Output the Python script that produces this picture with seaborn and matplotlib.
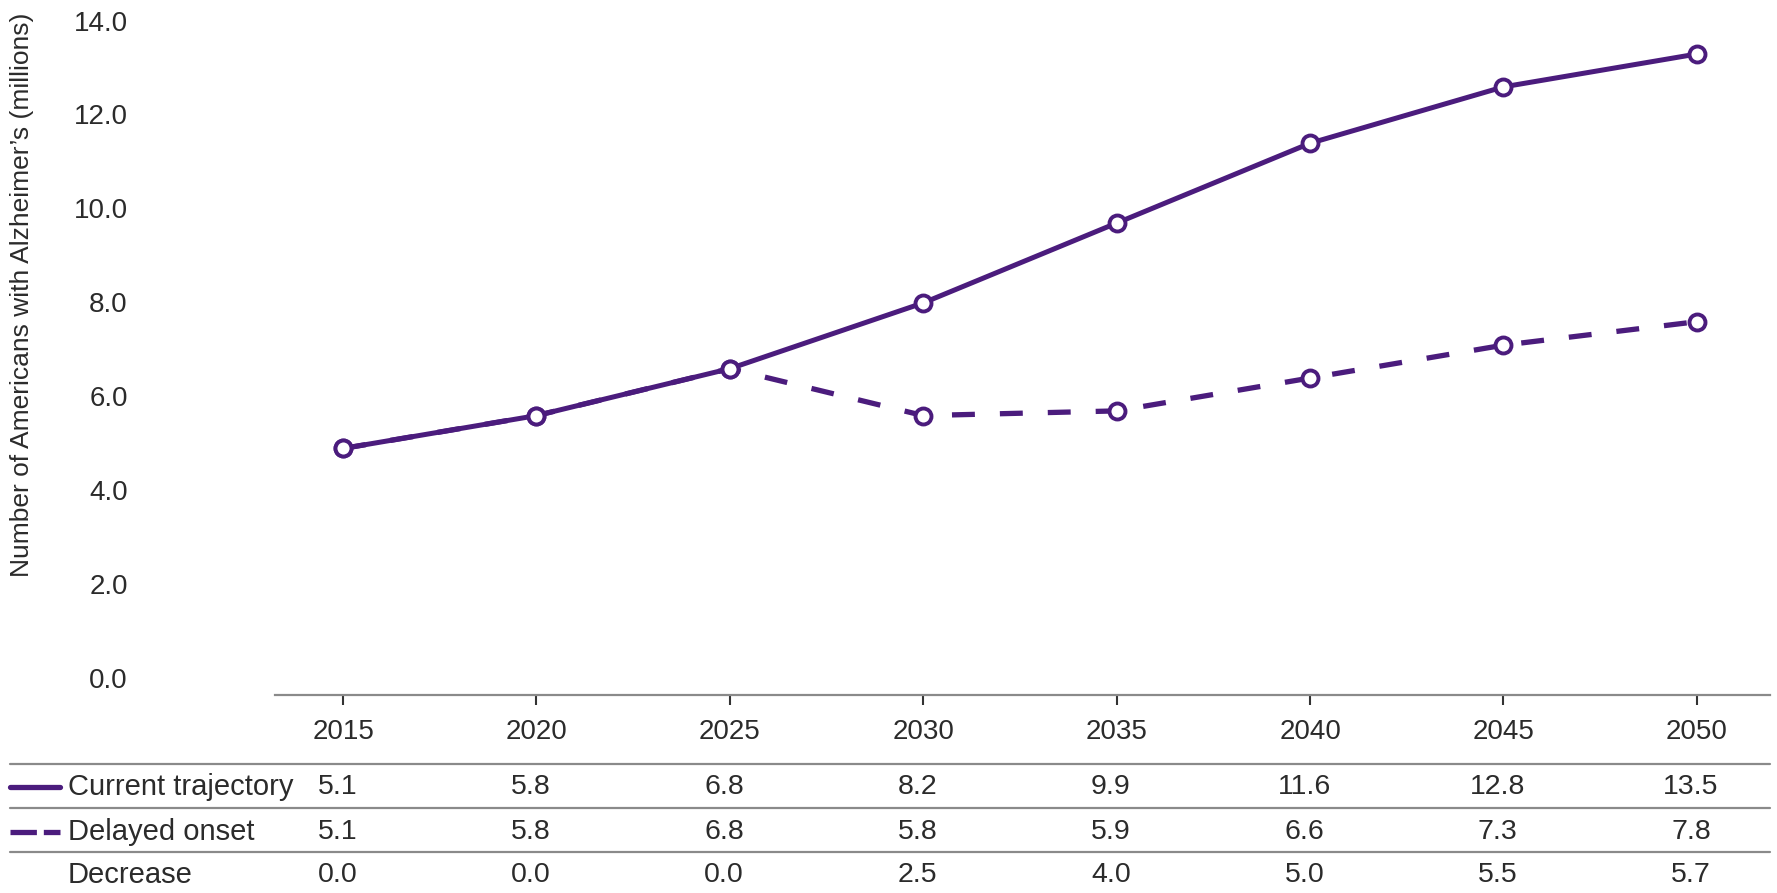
import pandas as pd
import matplotlib.pyplot as plt
import matplotlib.transforms as mtransforms
from matplotlib.lines import Line2D
import seaborn as sns

years = [2015, 2020, 2025, 2030, 2035, 2040, 2045, 2050]
current = [5.1, 5.8, 6.8, 8.2, 9.9, 11.6, 12.8, 13.5]
delayed = [5.1, 5.8, 6.8, 5.8, 5.9, 6.6, 7.3, 7.8]
decrease = [0.0, 0.0, 0.0, 2.5, 4.0, 5.0, 5.5, 5.7]
row_labels = ['Current trajectory', 'Delayed onset', 'Decrease']
y_ticks = [0, 2, 4, 6, 8, 10, 12, 14]

purple = '#4b1c7d'
txt = '#2b2b2b'

sns.set_style('white')
plt.rcParams['font.family'] = ['Liberation Sans', 'DejaVu Sans']
plt.rcParams['lines.scale_dashes'] = False

df = pd.DataFrame({'year': years, 'current': current, 'delayed': delayed})

fig = plt.figure(figsize=(17.77, 8.93), dpi=100)
ax = fig.add_axes([275 / 1777, 1 - 695 / 893, 1495 / 1777, 695 / 893])

marker_kw = dict(marker='o', markersize=11.5, markerfacecolor='white',
                 markeredgecolor=purple, markeredgewidth=2.8)

sns.lineplot(data=df, x='year', y='delayed', ax=ax, color=purple, lw=3.8, **marker_kw)
ax.lines[-1].set_dashes((16.5, 18))
sns.lineplot(data=df, x='year', y='current', ax=ax, color=purple, lw=3.6, **marker_kw)

ax.set_xlim(2013.24, 2051.89)
ax.set_ylim(-0.15, 14.65)
ax.set_xticks(years)
ax.set_xticklabels([str(y) for y in years])
ax.set_yticks(y_ticks)
ax.set_yticklabels([f'{v:.1f}' for v in y_ticks])
ax.set_xlabel('')
ax.set_ylabel('')

for s in ['top', 'right', 'left']:
    ax.spines[s].set_visible(False)
ax.spines['bottom'].set_color('#8a8a8a')
ax.spines['bottom'].set_linewidth(1.6)

ax.tick_params(axis='x', bottom=True, length=7, width=1.5, color='#333333',
               direction='out', pad=10, labelsize=20, labelcolor=txt)
ax.tick_params(axis='y', left=False, length=0, pad=106, labelsize=20, labelcolor=txt)

# y labels sit a little above their tick positions
shift = mtransforms.ScaledTranslation(0, 0.10, fig.dpi_scale_trans)
for lab in ax.get_yticklabels():
    lab.set_transform(lab.get_transform() + shift)

fig.text(22 / 1777, 1 - 295 / 893, 'Number of Americans with Alzheimer\u2019s (millions)',
         rotation=90, ha='center', va='center', fontsize=19, color=txt)

# table under the chart
trans = mtransforms.blended_transform_factory(ax.transData, fig.transFigure)
line_ys = [1 - 764 / 893, 1 - 808 / 893, 1 - 852 / 893]
row_ys = [1 - 787 / 893, 1 - 832 / 893, 1 - 875 / 893]
for ly in line_ys:
    fig.add_artist(Line2D([10 / 1777, 1770 / 1777], [ly, ly], color='#8a8a8a', lw=1.6))

fig.add_artist(Line2D([10 / 1777, 60 / 1777], [row_ys[0], row_ys[0]], color=purple, lw=3.8))
dash = Line2D([10 / 1777, 60 / 1777], [row_ys[1], row_ys[1]], color=purple, lw=3.8)
dash.set_dashes((19, 5))
fig.add_artist(dash)

for label, ry, vals in zip(row_labels, row_ys, [current, delayed, decrease]):
    fig.text(68 / 1777, ry, label, ha='left', va='center', fontsize=21, color=txt)
    for yr, v in zip(years, vals):
        ax.text(yr - 0.15, ry, f'{v:.1f}', transform=trans, ha='center', va='center',
                fontsize=20.5, color=txt)

fig.savefig('out.png', dpi=100)
